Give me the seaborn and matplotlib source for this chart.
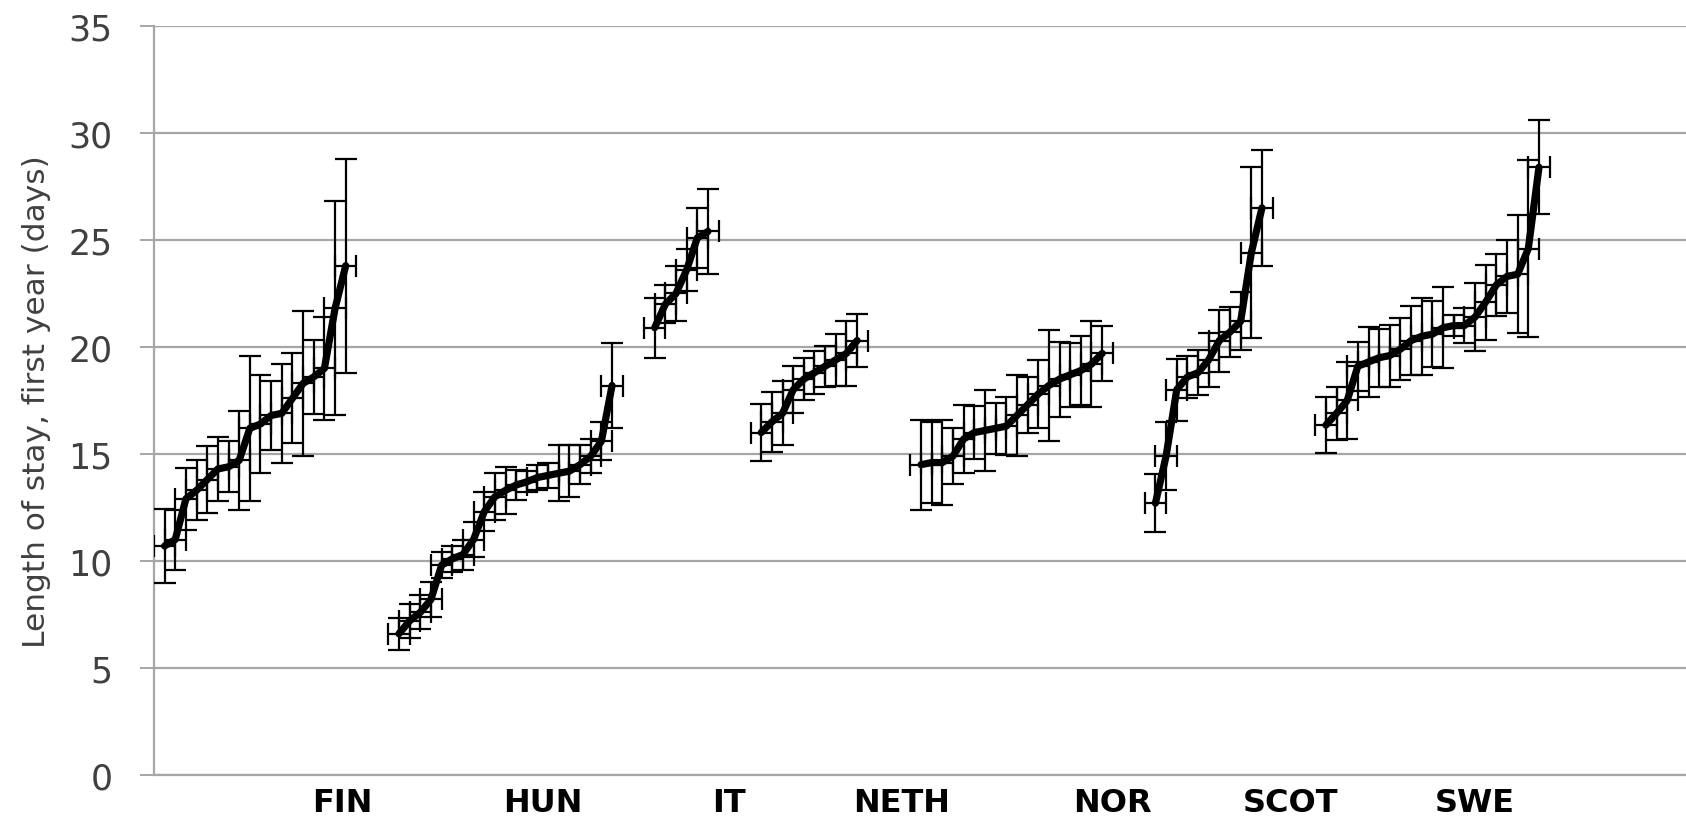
import numpy as np
import pandas as pd
import matplotlib
matplotlib.use("Agg")
import matplotlib.pyplot as plt
import seaborn as sns

# Countries, position of the first hospital of each group on the x axis,
# and where each country name sits under the axis
countries = ["FIN", "HUN", "IT", "NETH", "NOR", "SCOT", "SWE"]
group_start = [1, 23, 47, 57, 72, 94, 110]
label_pos = [17.7, 36.5, 54.0, 70.2, 90.0, 106.7, 124.0]

# Mean length of stay (days) per hospital, ranked within country, with 95% CI half-widths
fin_los = [10.7, 11.0, 12.9, 13.3, 13.8, 14.3, 14.4, 14.7, 16.2, 16.4, 16.8, 16.9, 17.6, 18.3, 18.6, 19.0, 21.8, 23.8]
fin_err = [1.75, 1.4, 1.45, 1.4, 1.55, 1.5, 1.2, 2.3, 3.4, 2.3, 1.6, 2.3, 2.1, 3.4, 1.75, 2.4, 5.0, 5.0]

hun_los = [6.6, 7.2, 7.6, 8.2, 9.8, 10.1, 10.3, 11.0, 12.3, 13.0, 13.3, 13.55, 13.7, 13.9, 14.0, 14.1, 14.2, 14.5, 14.9, 15.6, 18.2]
hun_err = [0.75, 0.8, 0.8, 0.8, 0.6, 0.6, 0.7, 0.8, 0.9, 1.1, 1.1, 0.7, 0.5, 0.6, 0.6, 1.3, 1.2, 0.9, 0.8, 0.9, 2.0]

it_los = [20.9, 22.0, 22.5, 23.6, 25.1, 25.4]
it_err = [1.4, 0.9, 1.3, 1.0, 1.4, 2.0]

neth_los = [16.0, 16.5, 16.9, 18.0, 18.5, 18.8, 19.1, 19.4, 19.7, 20.3]
neth_err = [1.35, 1.4, 1.5, 1.1, 1.0, 1.0, 0.95, 1.2, 1.5, 1.25]

nor_los = [14.5, 14.6, 14.6, 14.9, 15.7, 16.0, 16.1, 16.2, 16.3, 16.8, 17.3, 17.8, 18.2, 18.5, 18.7, 18.9, 19.2, 19.7]
nor_err = [2.1, 1.9, 2.0, 1.3, 1.6, 1.25, 1.9, 1.2, 1.35, 1.9, 1.3, 1.6, 2.6, 1.75, 1.5, 1.6, 2.0, 1.3]

scot_los = [12.7, 14.9, 18.0, 18.6, 18.8, 19.4, 20.3, 20.7, 21.2, 24.4, 26.5]
scot_err = [1.35, 1.6, 1.45, 1.0, 1.05, 1.25, 1.45, 1.15, 1.35, 4.0, 2.7]

swe_los = [16.35, 16.9, 17.5, 19.1, 19.3, 19.5, 19.6, 19.9, 20.3, 20.5, 20.6, 20.9, 21.0, 21.0, 21.4, 22.1, 22.9, 23.3, 23.4, 24.6, 28.4]
swe_err = [1.3, 1.25, 1.8, 1.15, 1.65, 1.35, 1.45, 1.45, 1.6, 1.8, 1.55, 1.9, 0.5, 0.8, 1.6, 1.75, 1.45, 1.7, 2.75, 4.15, 2.2]

# Half-width of the horizontal error bars (x units)
x_err = 1.0

series_los = [fin_los, hun_los, it_los, neth_los, nor_los, scot_los, swe_los]
series_err = [fin_err, hun_err, it_err, neth_err, nor_err, scot_err, swe_err]

rows = []
for c, s, los, err in zip(countries, group_start, series_los, series_err):
    for i, (v, e) in enumerate(zip(los, err)):
        rows.append({"country": c, "pos": s + i, "los": v, "err": e})
df = pd.DataFrame(rows)

sns.set_theme(style="white")
plt.rcParams["font.family"] = ["DejaVu Sans"]

fig = plt.figure(figsize=(16.86, 8.29), dpi=100)
ax = fig.add_axes([0.0913, 0.064, 0.9087, 0.9034])

grid_c = "#a6a6a6"
ax.set_axisbelow(True)
ax.yaxis.grid(True, color=grid_c, lw=1.6)
ax.xaxis.grid(False)

ax.errorbar(df["pos"], df["los"], yerr=df["err"], xerr=x_err, fmt="none",
            ecolor="black", elinewidth=1.6, capsize=8, capthick=1.6, zorder=3)
sns.lineplot(data=df, x="pos", y="los", units="country", estimator=None,
             color="black", lw=5.2, ax=ax, zorder=4)

ax.set_ylim(0, 35)
ax.set_yticks(np.arange(0, 36, 5))
ax.set_xlim(0, 143.8)
ax.set_xticks(label_pos)
ax.set_xticklabels(countries, fontsize=23, fontweight="bold", color="black")
ax.tick_params(axis="x", length=0, pad=9)
ax.tick_params(axis="y", left=True, length=10, width=1.4, color=grid_c,
               labelsize=25, labelcolor="#404040", pad=20)

for side in ["top", "right"]:
    ax.spines[side].set_visible(False)
for side in ["left", "bottom"]:
    ax.spines[side].set_color(grid_c)
    ax.spines[side].set_linewidth(1.6)

ax.set_xlabel("")
ax.set_ylabel("Length of stay, first year (days)", fontsize=22.5, color="#404040", labelpad=12)

fig.savefig("out.png", dpi=100)
